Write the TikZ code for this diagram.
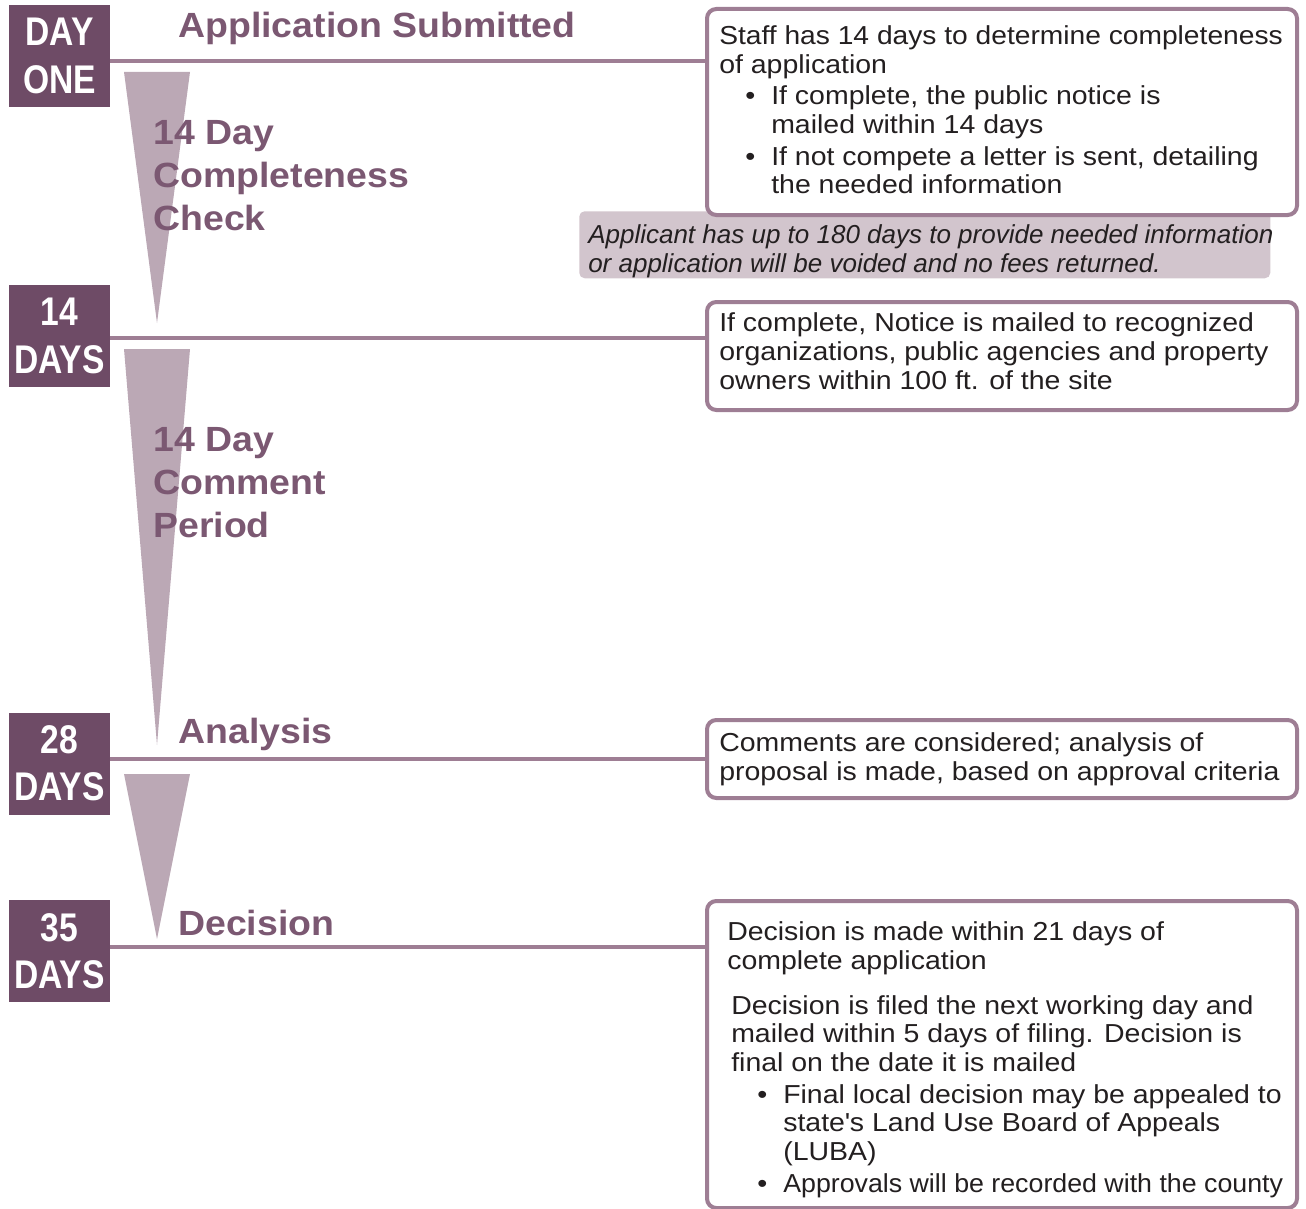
\documentclass[tikz,border=0pt]{standalone}
\usepackage{graphicx}
\usepackage{fontspec}
\setmainfont{Liberation Sans}[FakeStretch=1.095]
\newfontfamily\notefont{Liberation Sans}[FakeStretch=1.0]
\newfontfamily\headfont{Liberation Sans}[FakeStretch=1.07]
\newfontfamily\dayfont{Liberation Sans}[FakeStretch=0.84]
\usetikzlibrary{calc, positioning}
\definecolor{prune}{HTML}{6E4B66}
\definecolor{prunetrait}{HTML}{9E7E94}
\definecolor{prunepale}{HTML}{BBA8B5}
\definecolor{prunetitre}{HTML}{7B5872}
\definecolor{notegris}{HTML}{D2C5CD}
\definecolor{texte}{HTML}{231F20}
\newcommand{\puce}[2]{\makebox[#2][l]{\hspace*{#1}\textbullet}}

\begin{document}
\begin{tikzpicture}[x=0.75pt, y=-0.75pt,
  daybox/.style={fill=prune, text=white, minimum width=75.75pt, minimum height=76.5pt,
    inner sep=0pt, align=center, font=\dayfont\bfseries\fontsize{30}{35.5}\selectfont},
  stage/.style={text=prunetitre, inner sep=0pt, anchor=base west, align=left,
    font=\headfont\bfseries\fontsize{26.25}{31.9}\selectfont},
  tline/.style={prunetrait, line width=3pt},
  wedge/.style={fill=prunepale},
  infobox/.style={draw=prunetrait, line width=3pt, rounded corners=7pt, fill=white,
    minimum width=442.5pt, inner sep=0pt, anchor=north west},
  infotext/.style={text=texte, inner sep=0pt, anchor=base west, align=left,
    font=\fontsize{19.5}{21.5}\selectfont},
  notebox/.style={fill=notegris, rounded corners=4pt, minimum width=518.25pt,
    minimum height=50.25pt, inner sep=0pt, anchor=north west}]

  \useasboundingbox (0,0) rectangle (1306,1209);

  % Durées
  \fill[wedge] (124,72) -- (190,72) -- (157,323) -- cycle;
  \fill[wedge] (124,349) -- (190,349) -- (157,745) -- cycle;
  \fill[wedge] (124,774) -- (190,774) -- (157,939) -- cycle;

  % Jalons
  \node[daybox] (d1) at (59.5,56) {DAY\\ONE};
  \node[daybox] (d2) at (59.5,336) {14\\DAYS};
  \node[daybox] (d3) at (59.5,763.5) {28\\DAYS};
  \node[daybox] (d4) at (59.5,951) {35\\DAYS};

  % Étapes (ancre sur la dernière ligne)
  \node[stage] (s1) at (178,38) {Application Submitted};
  \node[stage] (s2) at (153,230) {14 Day\\Completeness\\Check};
  \node[stage] (s3) at (153,537) {14 Day\\Comment\\Period};
  \node[stage] (s4) at (178,743) {Analysis};
  \node[stage] (s5) at (178,935) {Decision};

  % Note sous le premier cadre
  \node[notebox] (n1) at (579,211) {};
  \node[infotext, font=\notefont\fontsize{19.5}{21.5}\selectfont\itshape] (n1t) at (588,272)
    {Applicant has up to 180 days to provide needed information\\
     or application will be voided and no fees returned.};

  % Cadres
  \node[infobox, minimum height=154.5pt] (b1) at (705,7) {};
  \node[infobox, minimum height=81pt] (b2) at (705,300) {};
  \node[infobox, minimum height=58.5pt] (b3) at (705,718) {};
  \node[infobox, minimum height=230.25pt] (b4) at (705,899) {};

  \node[infotext] (t1) at (719,194) {\scalebox{0.99}[1]{Staff has 14 days to determine completeness}\\
    of application\\[2.25pt]
    \puce{19.5pt}{39pt}If complete, the public notice is\\
    \hspace*{39pt}mailed within 14 days\\[2.25pt]
    \puce{19.5pt}{39pt}If not compete a letter is sent, detailing\\
    \hspace*{39pt}the needed information};
  \node[infotext] (t2) at (719,389) {If complete, Notice is mailed to recognized\\
    organizations, public agencies and property\\
    owners within 100 ft. of the site};
  \node[infotext] (t3) at (719,780) {Comments are considered; analysis of\\
    proposal is made, based on approval criteria};
  \node[infotext] (t4) at (727,1192) {Decision is made within 21 days of\\
    complete application\\[12pt]
    \hspace*{3pt}Decision is filed the next working day and\\
    \hspace*{3pt}mailed within 5 days of filing. Decision is\\
    \hspace*{3pt}final on the date it is mailed\\[2.25pt]
    \puce{22.5pt}{42pt}Final local decision may be appealed to\\
    \hspace*{42pt}state\textquotesingle s Land Use Board of Appeals\\
    \hspace*{42pt}(LUBA)\\[2.25pt]
    \puce{22.5pt}{42pt}\scalebox{0.94}[1]{Approvals will be recorded with the county}};

  % Traits
  \draw[tline] (d1.east |- 0,61) -- (b1.west |- 0,61);
  \draw[tline] (d2.east |- 0,338) -- (b2.west |- 0,338);
  \draw[tline] (d3.east |- 0,759) -- (b3.west |- 0,759);
  \draw[tline] (d4.east |- 0,947) -- (b4.west |- 0,947);

\end{tikzpicture}
\end{document}
